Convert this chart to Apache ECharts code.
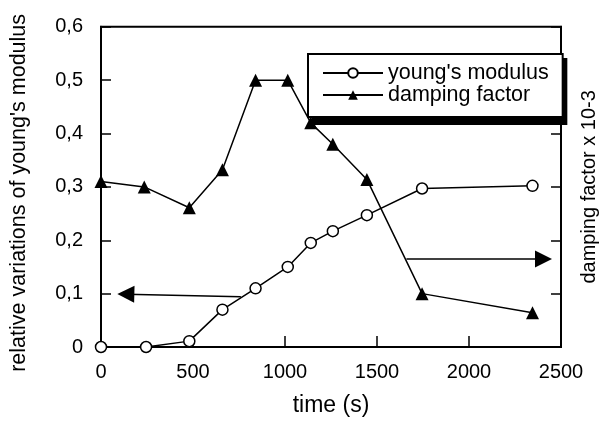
<!DOCTYPE html>
<html>
<head>
<meta charset="utf-8">
<script src="https://cdn.jsdelivr.net/npm/echarts@6/dist/echarts.min.js"></script>
<style>
  html, body { margin: 0; padding: 0; background: #fff; }
  #chart { width: 607px; height: 422px; }
</style>
</head>
<body>
<div id="chart"></div>
<script>
// time (s)
const modulusTime = [0, 245, 480, 660, 840, 1015, 1140, 1260, 1445, 1745, 2345];
const modulusValue = [0, 0, 0.011, 0.07, 0.11, 0.15, 0.195, 0.217, 0.247, 0.297, 0.302];
const dampingTime = [0, 235, 480, 660, 840, 1015, 1140, 1260, 1445, 1745, 2345];
const dampingValue = [0.31, 0.3, 0.261, 0.332, 0.5, 0.5, 0.42, 0.38, 0.314, 0.1, 0.064];
// arrows pointing to the axis each series belongs to
const leftArrow = [[760, 0.094], [135, 0.099]];
const rightArrow = [[1660, 0.165], [2405, 0.165]];
const legendNames = ["young's modulus", 'damping factor'];

const fontFamily = "'Liberation Sans', Arial, sans-serif";
const nbsp = '\u00a0';

function commaLabel(v) {
  return v === 0 ? '0' : v.toFixed(1).replace('.', ',');
}

const chart = echarts.init(document.getElementById('chart'));

const option = {
  backgroundColor: '#fff',
  animation: false,
  textStyle: { fontFamily: fontFamily, color: '#000' },
  grid: {
    left: 100, right: 45, top: 26, bottom: 73,
    show: true, borderColor: '#000', borderWidth: 2
  },
  // solid drop shadow behind the legend box (an empty title box)
  title: {
    text: nbsp, left: 312, top: 58, z: 1,
    padding: [27, 126, 27, 126],
    backgroundColor: '#000',
    textStyle: { fontSize: 12, lineHeight: 13 }
  },
  legend: {
    data: legendNames,
    orient: 'vertical',
    left: 308, top: 54,
    padding: [8, 14, 11, 14],
    itemGap: 0,
    itemWidth: 60, itemHeight: 12,
    backgroundColor: '#fff',
    borderColor: '#000', borderWidth: 2,
    z: 10,
    textStyle: { fontSize: 21.5, color: '#000', fontFamily: fontFamily, lineHeight: 21 }
  },
  xAxis: {
    type: 'value', min: 0, max: 2500, interval: 500,
    name: 'time (s)', nameLocation: 'middle', nameGap: 47,
    nameTextStyle: { fontSize: 23, color: '#000' },
    axisLine: { lineStyle: { color: '#000', width: 2 } },
    axisTick: { inside: true, length: 11, lineStyle: { color: '#000', width: 1.5 } },
    axisLabel: { fontSize: 20, color: '#000', margin: 15, formatter: (v) => String(v) },
    splitLine: { show: false }
  },
  yAxis: [
    {
      type: 'value', min: 0, max: 0.6, interval: 0.1, position: 'left',
      name: "relative variations of young's modulus" + nbsp + nbsp, nameLocation: 'middle', nameGap: 71,
      nameTextStyle: { fontSize: 21.5, color: '#000' },
      axisLine: { show: true, lineStyle: { color: '#000', width: 2 } },
      axisTick: { inside: true, length: 10, lineStyle: { color: '#000', width: 1.5 } },
      axisLabel: { fontSize: 20, color: '#000', margin: 18, formatter: commaLabel },
      splitLine: { show: false }
    },
    {
      type: 'value', min: 0, max: 0.6, interval: 0.1, position: 'right',
      name: 'damping factor x 10-3', nameLocation: 'middle', nameGap: 18,
      nameRotate: 90,
      nameTextStyle: { fontSize: 20, color: '#000' },
      axisLine: { show: true, lineStyle: { color: '#000', width: 2 } },
      axisTick: { inside: true, length: 10, lineStyle: { color: '#000', width: 1.5 } },
      axisLabel: { show: false },
      splitLine: { show: false }
    }
  ],
  series: [
    {
      name: legendNames[0], type: 'line', yAxisIndex: 0,
      data: modulusTime.map((t, i) => [t, modulusValue[i]]),
      symbol: 'circle', symbolSize: 11,
      itemStyle: { color: '#fff', borderColor: '#000', borderWidth: 1.5 },
      lineStyle: { color: '#000', width: 1.5 },
      z: 3
    },
    {
      name: legendNames[1], type: 'line', yAxisIndex: 1,
      data: dampingTime.map((t, i) => [t, dampingValue[i]]),
      symbol: 'triangle', symbolSize: 13,
      itemStyle: { color: '#000' },
      lineStyle: { color: '#000', width: 1.5 },
      z: 3
    },
    {
      type: 'lines', coordinateSystem: 'cartesian2d',
      symbol: ['none', 'triangle'], symbolSize: 17,
      lineStyle: { color: '#000', width: 1.5, opacity: 1 },
      data: [{ coords: leftArrow }, { coords: rightArrow }],
      z: 2
    }
  ]
};

chart.setOption(option);
</script>
</body>
</html>
